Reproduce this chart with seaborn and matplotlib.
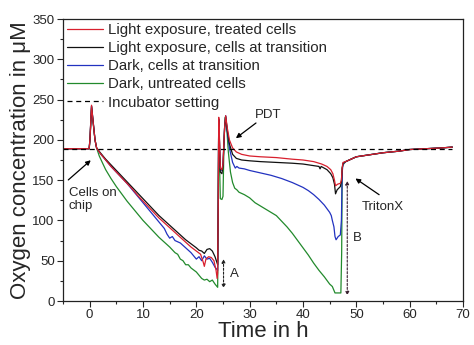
import matplotlib
matplotlib.use("Agg")
import matplotlib.pyplot as plt
import seaborn as sns
import pandas as pd

# ---- data ----
pre_t = [-5, -2, -0.1, 0.05, 0.35, 0.6, 1.0, 1.3]
tail_t = [48, 49, 50, 52, 55, 58, 60, 63, 66, 68]
tail_v = [173, 176, 179, 181, 184, 186, 188, 189, 190, 191]

red_t = pre_t + [2, 3, 4, 5, 6, 7, 8, 9, 10, 11, 12, 13, 14, 15, 16, 17, 18, 19, 20, 20.8, 21.3, 21.5,
                 21.8, 22.3, 22.8, 23.3, 23.7, 23.9, 24.0, 24.1, 24.2, 24.35, 24.5, 24.8, 25.0, 25.3,
                 25.5, 25.8, 26.2, 26.8, 27.5, 28.5, 30, 32, 35, 38, 40, 42, 43.5, 44.5, 45.2, 45.6,
                 45.9, 46.1, 46.5, 47.0, 47.2, 47.35, 47.5] + tail_t
red_v = [189, 189, 189, 200, 243, 225, 200, 190] + [183, 175, 167, 160, 153, 146, 139, 131, 124, 117,
         110, 103, 97, 91, 85, 79, 73, 67, 62, 58, 48, 43, 52, 55, 54, 50, 38, 28, 35, 120, 228, 200,
         165, 163, 170, 215, 230, 215, 200, 190, 185, 182, 180, 179, 178, 176, 175, 173, 170, 167,
         163, 158, 150, 143, 145, 146, 150, 165, 172] + tail_v

black_t = pre_t + [2, 3, 4, 5, 6, 7, 8, 9, 10, 11, 12, 13, 14, 15, 16, 17, 18, 19, 20, 20.5, 21, 21.5,
                   22, 22.5, 23, 23.5, 24.0, 24.1, 24.2, 24.35, 24.5, 24.8, 25.0, 25.3, 25.5, 25.8,
                   26.2, 26.8, 27.5, 28.5, 30, 32, 35, 38, 40, 42, 43, 43.2, 43.4, 44.5, 45.2, 45.6,
                   45.9, 46.1, 46.4, 47.0, 47.2, 47.35, 47.5] + tail_t
black_v = [189, 189, 189, 200, 242, 226, 200, 190] + [184, 176, 169, 162, 155, 148, 141, 134, 127, 120,
           113, 106, 100, 94, 88, 82, 76, 71, 66, 63, 62, 59, 64, 65, 62, 55, 45, 120, 225, 195, 160,
           158, 168, 215, 229, 212, 195, 182, 177, 175, 174, 173, 172, 171, 170, 168, 167, 164, 167,
           163, 158, 153, 145, 133, 138, 142, 148, 165, 171] + tail_v

blue_t = pre_t + [2, 3, 4, 5, 6, 7, 8, 9, 10, 11, 12, 13, 14, 14.5, 15, 15.5, 16, 17, 18, 19, 20, 20.5,
                  21, 21.5, 22, 22.5, 23, 23.5, 24.0, 24.1, 24.2, 24.35, 24.5, 24.8, 25.0, 25.3, 25.5,
                  25.8, 26.2, 26.8, 27.3, 27.6, 28, 29, 30, 32, 34, 36, 38, 40, 41, 42, 43, 44, 45,
                  45.3, 45.5, 45.8, 46.0, 46.2, 46.6, 47.0, 47.2, 47.35, 47.5] + tail_t
blue_v = [189, 189, 189, 200, 242, 226, 200, 190] + [183, 175, 167, 160, 153, 146, 138, 130, 122, 114,
          106, 98, 90, 83, 78, 80, 75, 72, 66, 60, 52, 55, 50, 56, 52, 53, 48, 42, 38, 120, 226, 195,
          165, 162, 170, 215, 230, 210, 190, 172, 165, 167, 165, 164, 162, 159, 156, 152, 147, 141,
          137, 132, 126, 119, 110, 106, 100, 92, 80, 76, 80, 82, 100, 160, 170] + tail_v

green_t = pre_t + [1.8, 2.5, 3, 4, 5, 6, 7, 8, 9, 10, 11, 12, 13, 14, 15, 16, 16.5, 17, 17.5, 18, 18.5,
                   19, 20, 20.5, 21, 21.5, 22, 22.5, 23, 23.5, 24.0, 24.1, 24.2, 24.35, 24.5, 24.8,
                   25.0, 25.2, 25.4, 25.7, 26.0, 26.4, 26.8, 27.2, 27.6, 28, 29, 30, 31, 32, 33, 34,
                   35, 36, 37, 38, 39, 40, 41, 42, 43, 44, 45, 45.5, 46, 47.1, 47.25, 47.35, 47.5] + tail_t
green_v = [189, 189, 189, 198, 240, 224, 200, 190] + [180, 170, 163, 152, 142, 133, 124, 116, 108, 100,
           93, 86, 79, 73, 67, 60, 58, 52, 50, 45, 45, 41, 36, 32, 28, 26, 27, 24, 26, 21, 17, 120,
           225, 170, 127, 126, 130, 200, 228, 215, 185, 160, 147, 140, 138, 135, 132, 128, 122, 118,
           114, 110, 106, 99, 92, 84, 75, 66, 57, 47, 38, 30, 21, 18, 10, 10, 60, 165, 169] + tail_v

series_names = ["Light exposure, treated cells", "Light exposure, cells at transition",
                "Dark, cells at transition", "Dark, untreated cells"]
series_colors = ["#d8202e", "#111111", "#2232c0", "#228a2c"]
incubator_level = 189
incubator_t = [-5, 68]

frames = []
for name, t, v in zip(series_names, [red_t, black_t, blue_t, green_t],
                      [red_v, black_v, blue_v, green_v]):
    frames.append(pd.DataFrame({"t": t, "v": v, "series": name}))
df = pd.concat(frames, ignore_index=True)

# ---- plot ----
sns.set_style("ticks")
plt.rcParams["font.family"] = ["Liberation Sans", "DejaVu Sans"]

fig = plt.figure(figsize=(4.74, 3.45), dpi=100)
ax = fig.add_axes([63 / 474, 1 - 301 / 345, (463 - 63) / 474, (301 - 19) / 345])

# draw in reverse so red sits on top
for name, col in list(zip(series_names, series_colors))[::-1]:
    sub = df[df["series"] == name]
    sns.lineplot(data=sub, x="t", y="v", ax=ax, color=col, lw=0.9, sort=False,
                 estimator=None, label=name, legend=False)
ax.plot(incubator_t, [incubator_level] * 2, ls=(0, (4, 3)), color="black", lw=0.9,
        label="Incubator setting")

handles, labels = ax.get_legend_handles_labels()
order = [3, 2, 1, 0, 4]
ax.legend([handles[i] for i in order], [labels[i] for i in order], loc="upper left",
          frameon=False, fontsize=10.8, handlelength=2.4, handletextpad=0.35,
          labelspacing=0.28, borderaxespad=0.1, borderpad=0.15)

ax.set_xlim(-5, 70)
ax.set_ylim(0, 350)
ax.set_xticks(range(0, 71, 10))
ax.set_yticks(range(0, 351, 50))
ax.set_xticks(range(-5, 71, 10), minor=True)
ax.set_yticks(range(25, 351, 50), minor=True)
ax.tick_params(axis="both", which="major", direction="out", length=4, width=0.8,
               labelsize=9.5, pad=2)
ax.tick_params(axis="both", which="minor", direction="out", length=2.5, width=0.8)
for s in ax.spines.values():
    s.set_visible(True)
    s.set_linewidth(0.9)
    s.set_color("#222222")

ax.set_xlabel("Time in h", fontsize=16, labelpad=0)
ax.set_ylabel("Oxygen concentration in μM", fontsize=16, labelpad=1)

# annotations
ann = dict(fontsize=9.5)
ax.annotate("", xy=(0.6, 177), xytext=(-4.4, 148),
            arrowprops=dict(arrowstyle="-|>", color="black", lw=0.9, mutation_scale=7))
ax.text(-3.9, 141, "Cells on\nchip", ha="left", va="top", linespacing=1.05, **ann)
ax.annotate("", xy=(27.0, 200), xytext=(31.6, 223),
            arrowprops=dict(arrowstyle="-|>", color="black", lw=0.9, mutation_scale=7))
ax.text(31.0, 231, "PDT", ha="left", va="center", **ann)
ax.annotate("", xy=(49.4, 154), xytext=(54.7, 130),
            arrowprops=dict(arrowstyle="-|>", color="black", lw=0.9, mutation_scale=7))
ax.text(51.0, 117, "TritonX", ha="left", va="center", **ann)
ax.annotate("", xy=(25.1, 16), xytext=(25.1, 52),
            arrowprops=dict(arrowstyle="<|-|>", color="#222222", lw=0.8, ls=(0, (2, 1.5)),
                            mutation_scale=5, shrinkA=0, shrinkB=0))
ax.text(26.3, 34, "A", ha="left", va="center", **ann)
ax.annotate("", xy=(48.3, 7), xytext=(48.3, 149),
            arrowprops=dict(arrowstyle="<|-|>", color="#3a2030", lw=0.8, ls=(0, (2, 1.5)),
                            mutation_scale=5, shrinkA=0, shrinkB=0))
ax.text(49.3, 78, "B", ha="left", va="center", **ann)

fig.savefig("out.png", dpi=100)
